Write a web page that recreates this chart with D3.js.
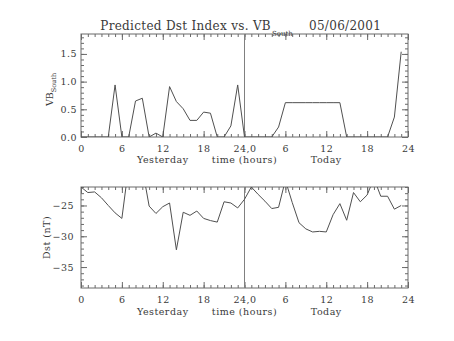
<!DOCTYPE html>
<html><head><meta charset="utf-8">
<script src="https://cdn.jsdelivr.net/npm/d3@7"></script>
<style>
html,body{margin:0;padding:0;background:#fff;}
svg{display:block;}
text{font-family:"DejaVu Serif",serif;fill:#3a3a3a;}
</style></head>
<body>
<svg id="c" width="454" height="341"></svg>
<script>
// ---- data (hours 0..47: 0-23 yesterday, 24-47 today) ----
const hours = d3.range(0, 48);
const vbSouth = [0,0,0,0,0,0.94,0,0,0.65,0.70,0,0.07,0,0.91,0.64,0.51,0.30,0.30,0.45,0.43,0,0,0.20,0.94,
                 0,0,0,0,0,0.18,0.62,0.62,0.62,0.62,0.62,0.62,0.62,0.62,0.62,0,0,0,0,0,0,0,0.36,1.54];
const dst = [-22.0,-22.9,-22.8,-23.75,-25.0,-26.2,-27.1,-18.6,-17.5,-18.9,-25.1,-26.3,-25.2,-24.6,-32.2,-26.1,-26.6,-25.9,-27.1,-27.45,-27.7,-24.4,-24.6,-25.4,
             -24.0,-22.0,-23.2,-24.3,-25.5,-25.3,-20.9,-24.5,-27.8,-28.8,-29.3,-29.2,-29.3,-26.5,-24.7,-27.4,-22.9,-24.4,-23.3,-20.6,-23.5,-23.5,-25.6,-25.0];
const xTicks = [0,6,12,18,24,30,36,42,48];
const xTickLabels = ["0","6","12","18","24,0","6","12","18","24"];
const vbTicks = [0,0.5,1.0,1.5];
const vbTickLabels = ["0.0","0.5","1.0","1.5"];
const dstTicks = [-35,-30,-25];
const dstTickLabels = ["\u221235","\u221230","\u221225"];
const dayLabels = ["Yesterday","time (hours)","Today"];
const dayLabelPos = [12,24,36];
const titleMain = "Predicted Dst Index vs. VB";
const titleSub = "South";
const titleDate = "05/06/2001";

const svg = d3.select("#c");
const L = 81, R = 408;
const x = d3.scaleLinear().domain([0,48]).range([L,R]);
const axisCol = "#6a6a6a", lineCol = "#505050", textCol = "#3a3a3a";

function panel(top, bottom, yDomain, yMajor, yMajorLabels, yMinorStep, values, yLabelFn, labelBase, yPad) {
  const y = d3.scaleLinear().domain(yDomain).range([bottom, top]);
  const g = svg.append("g");
  const clipId = "clip" + top;
  svg.append("clipPath").attr("id", clipId).append("rect")
    .attr("x", L).attr("y", top).attr("width", R - L).attr("height", bottom - top);
  const minorX = d3.range(0, 49, 1);
  const yMinor = d3.range(Math.ceil(yDomain[0] / yMinorStep), Math.floor(yDomain[1] / yMinorStep) + 1).map(k => +(k * yMinorStep).toFixed(4));
  function styleAxis(sel) {
    sel.select(".domain").remove();
    sel.selectAll(".tick line").attr("stroke", axisCol);
    sel.selectAll(".tick text").style("font-family", '"DejaVu Serif",serif').attr("fill", textCol);
  }
  // bottom
  g.append("g").attr("transform", `translate(0,${bottom})`)
    .call(d3.axisBottom(x).tickValues(minorX).tickSize(-3).tickFormat("")).call(styleAxis);
  g.append("g").attr("transform", `translate(0,${bottom})`)
    .call(d3.axisBottom(x).tickValues(xTicks).tickSize(-6).tickPadding(8)
      .tickFormat((d, i) => xTickLabels[i])).call(styleAxis)
    .selectAll(".tick text").style("font-size", "9.5px").attr("letter-spacing", "0.5");
  // top
  g.append("g").attr("transform", `translate(0,${top})`)
    .call(d3.axisTop(x).tickValues(minorX).tickSize(-3).tickFormat("")).call(styleAxis);
  g.append("g").attr("transform", `translate(0,${top})`)
    .call(d3.axisTop(x).tickValues(xTicks).tickSize(-6).tickFormat("")).call(styleAxis);
  // left
  g.append("g").attr("transform", `translate(${L},0)`)
    .call(d3.axisLeft(y).tickValues(yMinor).tickSize(-3).tickFormat("")).call(styleAxis);
  g.append("g").attr("transform", `translate(${L},0)`)
    .call(d3.axisLeft(y).tickValues(yMajor).tickSize(-6).tickPadding(yPad)
      .tickFormat((d, i) => yMajorLabels[i])).call(styleAxis)
    .selectAll(".tick text").style("font-size", "9.5px").attr("letter-spacing", "0.5");
  // right
  g.append("g").attr("transform", `translate(${R},0)`)
    .call(d3.axisRight(y).tickValues(yMinor).tickSize(-3).tickFormat("")).call(styleAxis);
  g.append("g").attr("transform", `translate(${R},0)`)
    .call(d3.axisRight(y).tickValues(yMajor).tickSize(-6).tickFormat("")).call(styleAxis);
  // box
  g.append("rect").attr("x", L).attr("y", top).attr("width", R - L).attr("height", bottom - top)
    .attr("fill", "none").attr("stroke", axisCol).attr("stroke-width", 1);
  // divider at 24h
  g.append("line").attr("x1", x(24)).attr("x2", x(24)).attr("y1", top).attr("y2", bottom)
    .attr("stroke", "#808080").attr("stroke-width", 1);
  // data line
  const line = d3.line().x((d, i) => x(hours[i])).y(d => y(d));
  g.append("path").datum(values).attr("d", line).attr("fill", "none")
    .attr("stroke", lineCol).attr("stroke-width", 1).attr("clip-path", `url(#${clipId})`);
  // day labels
  dayLabels.forEach((t, i) => {
    g.append("text").attr("x", x(dayLabelPos[i])).attr("y", labelBase)
      .attr("text-anchor", "middle").style("font-size", "9.5px").attr("letter-spacing", "0.5").text(t);
  });
  yLabelFn(g, (top + bottom) / 2);
}

panel(34, 137, [0, 1.86], vbTicks, vbTickLabels, 0.1, vbSouth, (g, cy) => {
  const t = g.append("text").attr("transform", `translate(53,${cy + 4}) rotate(-90)`)
    .attr("text-anchor", "middle").style("font-size", "9.5px");
  t.append("tspan").text("VB");
  t.append("tspan").attr("dy", 3).style("font-size", "6.5px").text("South");
}, 162.5, 4);

panel(187, 288, [-38.4, -22], dstTicks, dstTickLabels, 1, dst, (g, cy) => {
  g.append("text").attr("transform", `translate(50,${cy}) rotate(-90)`)
    .attr("text-anchor", "middle").style("font-size", "9.5px").attr("letter-spacing", "0.5").text("Dst (nT)");
}, 315, 7);

// title
svg.append("text").attr("x", 271).attr("y", 29.5).attr("text-anchor", "end")
  .style("font-size", "12px").attr("letter-spacing", "0.3").text(titleMain);
svg.append("text").attr("x", 272).attr("y", 36).style("font-size", "7px").text(titleSub);
svg.append("text").attr("x", 309).attr("y", 29.5)
  .style("font-size", "12px").attr("letter-spacing", "0.3").text(titleDate);
</script>
</body></html>
